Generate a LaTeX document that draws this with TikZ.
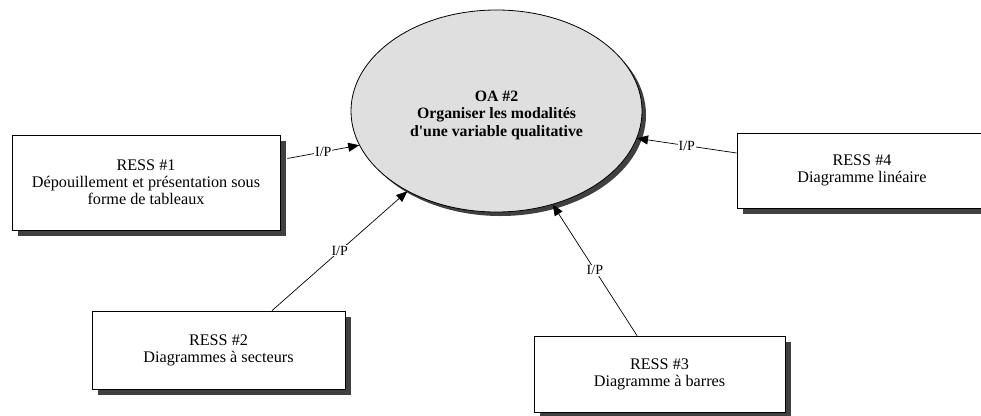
\documentclass[tikz,border=0pt]{standalone}
\usepackage{fontspec}
\setmainfont{Liberation Serif}
\usetikzlibrary{shapes.geometric,shadows,arrows.meta}
\definecolor{shadowgray}{RGB}{64,64,64}
\definecolor{goalfill}{RGB}{223,223,223}
\tikzset{
  textfont/.style={font=\fontsize{16.2}{17}\selectfont},
  dropsh/.style={drop shadow={shadow xshift=#1, shadow yshift=-#1, fill=shadowgray, opacity=1}},
  resbox/.style={draw=black, line width=0.8pt, fill=white, rectangle, align=center,
    textfont, inner sep=0pt, dropsh=6pt},
  goal/.style={draw=black, line width=0.8pt, fill=goalfill, ellipse, inner sep=0pt, dropsh=4pt},
  goaltext/.style={align=center, inner sep=0pt, font=\fontsize{15.8}{17.5}\selectfont\bfseries},
  link/.style={draw=black, line width=0.7pt, -{Triangle[length=11pt,width=9pt]}},
  iplabel/.style={fill=white, inner sep=0.8pt, font=\fontsize{14}{15}\selectfont}
}
\begin{document}
\begin{tikzpicture}[x=1pt,y=-1pt]
  \useasboundingbox (0,0) rectangle (981,415);

  % central objective
  \node[goal, minimum width=291pt, minimum height=202pt] (e) at (496.5,111) {};
  \node[goaltext] (et) at ([yshift=-4pt]e.center)
    {OA \#2\\ Organiser les modalités\hspace*{14pt}\\ d\textquotesingle une variable qualitative};

  % resources
  \node[resbox, minimum width=268pt, minimum height=95pt] (r1) at (146,182.5)
    {RESS \#1\\ Dépouillement et présentation sous\\ forme de tableaux};
  \node[resbox, minimum width=253pt, minimum height=78pt] (r2) at (218.5,350)
    {RESS \#2\\ Diagrammes à secteurs};
  \node[resbox, minimum width=251pt, minimum height=76pt] (r3) at (659.5,374)
    {RESS \#3\\ Diagramme à barres};
  \node[resbox, minimum width=250pt, minimum height=75pt] (r4) at (862,170.5)
    {RESS \#4\\ Diagramme linéaire};

  % input links
  \draw[link] ([xshift=7pt,yshift=24pt]r1.east) -- node[iplabel] {I/P} (e.194);
  \draw[link] ([xshift=53.5pt]r2.north) -- node[iplabel] {I/P} (e.222);
  \draw[link] ([xshift=-22.5pt]r3.north) -- node[iplabel] {I/P} (e.301);
  \draw[link] ([yshift=17.5pt]r4.west) -- node[iplabel] {I/P} (e.349);
\end{tikzpicture}
\end{document}
